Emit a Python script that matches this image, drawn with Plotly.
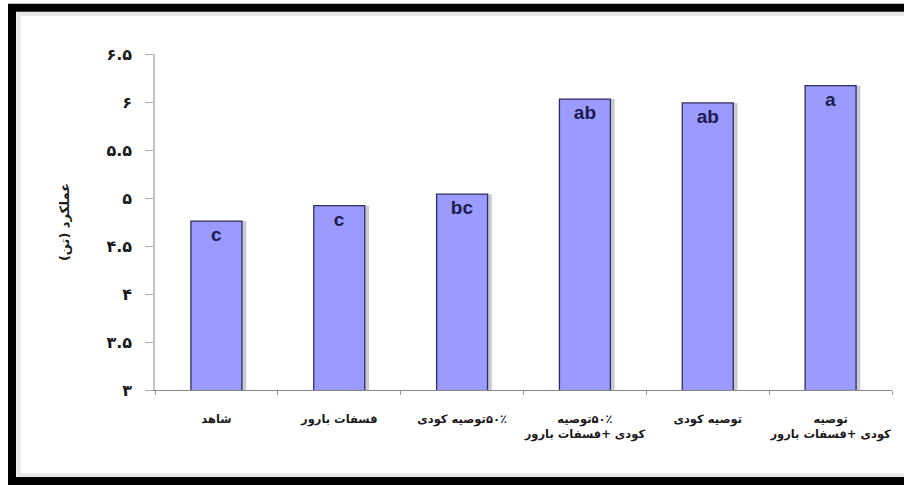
import plotly.graph_objects as go

RLM = "\u200f"

categories = [
    RLM + "شاهد",
    RLM + "فسفات بارور",
    RLM + "۵۰٪توصیه کودی",
    RLM + "۵۰٪توصیه<br>" + RLM + "کودی +فسفات بارور",
    RLM + "توصیه کودی",
    RLM + "توصیه<br>" + RLM + "کودی +فسفات بارور",
]
yields = [4.76, 4.92, 5.04, 6.03, 5.99, 6.17]
letters = ["c", "c", "bc", "ab", "ab", "a"]

tick_vals = [3, 3.5, 4, 4.5, 5, 5.5, 6, 6.5]
tick_text = ["۳", "۳.۵", "۴", "۴.۵", "۵", "۵.۵", "۶", "۶.۵"]
y_title = "عملکرد (تن)"

BAR_W = 0.415

fig = go.Figure()

# soft shadow behind bars
fig.add_trace(go.Bar(
    x=categories, y=yields,
    width=BAR_W, offset=-BAR_W / 2 + 0.035,
    marker=dict(color="rgba(80,80,110,0.3)", line=dict(width=0)),
    hoverinfo="skip", showlegend=False,
))

fig.add_trace(go.Bar(
    x=categories, y=yields,
    width=BAR_W, offset=-BAR_W / 2,
    text=letters,
    textposition="inside",
    insidetextanchor="end",
    constraintext="none",
    textfont=dict(family="Liberation Sans, Arial", size=19, color="#1c1c4e", weight="bold"),
    marker=dict(color="#9a9aff", line=dict(color="#2e2e5e", width=1.3)),
    showlegend=False,
))

fig.update_layout(
    width=904, height=485,
    margin=dict(l=155, r=12, t=54, b=95, autoexpand=False),
    paper_bgcolor="white",
    plot_bgcolor="white",
    barmode="overlay",
    font=dict(family="DejaVu Sans", color="#222"),
    xaxis=dict(
        showline=True, linecolor="#8a8a8a", linewidth=1,
        ticks="outside", ticklen=4, tickcolor="#9a9a9a",
        tickson="boundaries",
        tickangle=0,
        automargin=False,
        ticklabelstandoff=18,
        tickfont=dict(family="DejaVu Sans", size=11.5, color="#1a1a1a", weight="bold"),
        showgrid=False,
    ),
    yaxis=dict(
        range=[3, 6.5],
        tickvals=tick_vals, ticktext=tick_text,
        showline=True, linecolor="#c4c4c4", linewidth=1.5,
        ticks="outside", ticklen=8, tickcolor="#b0b0b0",
        ticklabelstandoff=10,
        automargin=False,
        tickfont=dict(family="DejaVu Sans", size=16, color="#1a1a1a", weight="bold"),
        showgrid=False, zeroline=False,
        title=dict(text=y_title, standoff=34,
                   font=dict(family="DejaVu Sans", size=13, color="#1a1a1a", weight="bold")),
    ),
)

# outer black frame (cut off at right side, as in the original)
fig.add_shape(type="path", xref="paper", yref="paper",
              path="M 1.05,1.138 L -0.194,1.138 L -0.194,-0.271 L 1.05,-0.271",
              line=dict(color="black", width=8))
fig.add_shape(type="path", xref="paper", yref="paper",
              path="M 1.05,1.119 L -0.185,1.119 L -0.185,-0.254 L 1.05,-0.254",
              line=dict(color="rgba(150,150,150,0.22)", width=4))

fig.write_html("out.html")
